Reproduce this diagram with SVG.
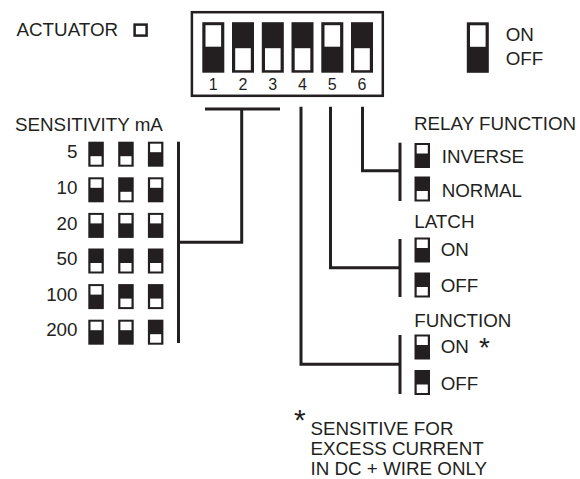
<svg xmlns="http://www.w3.org/2000/svg" width="580" height="479" viewBox="0 0 580 479">
<style>
text{font-family:"Liberation Sans",Arial,sans-serif;fill:#231f20;font-size:18.8px}
.num{font-size:16px;text-anchor:middle}
.r{text-anchor:end}
.ln{fill:none;stroke:#231f20;stroke-width:3}
.blk{fill:#231f20}
.wht{fill:#fff}
.box{fill:none;stroke:#231f20;stroke-width:2.5}
</style>
<defs>
<g id="big-up"><rect class="blk" width="22" height="50.5"/><rect class="wht" x="3.2" y="3" width="15.6" height="21.5"/></g>
<g id="big-down"><rect class="blk" width="22" height="50.5"/><rect class="wht" x="3.2" y="26" width="15.6" height="22"/></g>
<g id="sw-up"><rect class="blk" width="15.5" height="25"/><rect class="wht" x="2.2" y="2" width="11.1" height="8.5"/></g>
<g id="sw-down"><rect class="blk" width="15.5" height="25"/><rect class="wht" x="2.2" y="14.5" width="11.1" height="8.5"/></g>
</defs>
<rect width="580" height="479" fill="#fff"/>

<g id="actuator">
<text x="16.5" y="35.7">ACTUATOR</text>
<rect class="box" x="134.6" y="24.6" width="12" height="11"/>
</g>

<g id="dip-switch">
<rect class="box" x="191.9" y="12.2" width="190.9" height="83.6"/>
<use href="#big-up" x="202.3" y="22.2"/>
<use href="#big-down" x="232" y="22.2"/>
<use href="#big-down" x="261.8" y="22.2"/>
<use href="#big-down" x="291.5" y="22.2"/>
<use href="#big-up" x="321.3" y="22.2"/>
<use href="#big-down" x="351" y="22.2"/>
<text class="num" x="213.3" y="90.3">1</text>
<text class="num" x="243" y="90.3">2</text>
<text class="num" x="272.8" y="90.3">3</text>
<text class="num" x="302.5" y="90.3">4</text>
<text class="num" x="332.3" y="90.3">5</text>
<text class="num" x="362" y="90.3">6</text>
</g>

<g id="legend">
<use href="#big-up" x="466.8" y="22.3"/>
<text x="505.7" y="40.7">ON</text>
<text x="505.7" y="65">OFF</text>
</g>

<g id="sensitivity">
<text x="15" y="130.7">SENSITIVITY mA</text>
<text class="r" x="77.5" y="158.3">5</text>
<text class="r" x="77.5" y="193.9">10</text>
<text class="r" x="77.5" y="229.5">20</text>
<text class="r" x="77.5" y="265.1">50</text>
<text class="r" x="77.5" y="300.7">100</text>
<text class="r" x="77.5" y="336.3">200</text>
<use href="#sw-down" x="88.3" y="141.7"/><use href="#sw-down" x="118.2" y="141.7"/><use href="#sw-up" x="147.9" y="141.7"/>
<use href="#sw-up" x="88.3" y="177.3"/><use href="#sw-down" x="118.2" y="177.3"/><use href="#sw-up" x="147.9" y="177.3"/>
<use href="#sw-up" x="88.3" y="212.9"/><use href="#sw-up" x="118.2" y="212.9"/><use href="#sw-up" x="147.9" y="212.9"/>
<use href="#sw-down" x="88.3" y="248.5"/><use href="#sw-down" x="118.2" y="248.5"/><use href="#sw-down" x="147.9" y="248.5"/>
<use href="#sw-up" x="88.3" y="284.1"/><use href="#sw-down" x="118.2" y="284.1"/><use href="#sw-down" x="147.9" y="284.1"/>
<use href="#sw-up" x="88.3" y="319.7"/><use href="#sw-up" x="118.2" y="319.7"/><use href="#sw-down" x="147.9" y="319.7"/>
</g>

<g id="relay-function">
<text x="414" y="130">RELAY FUNCTION</text>
<use href="#sw-up" x="414.5" y="143"/>
<text x="441.7" y="163">INVERSE</text>
<use href="#sw-down" x="414.5" y="176.5"/>
<text x="441.7" y="196.7">NORMAL</text>
</g>

<g id="latch">
<text x="414.3" y="228.3">LATCH</text>
<use href="#sw-up" x="414.5" y="237.5"/>
<text x="440.7" y="255.7">ON</text>
<use href="#sw-down" x="414.5" y="272.5"/>
<text x="440.7" y="291.7">OFF</text>
</g>

<g id="function">
<text x="414.3" y="326.7">FUNCTION</text>
<use href="#sw-up" x="414.5" y="334.5"/>
<text x="440.7" y="353.3">ON</text>
<text x="479" y="357" style="font-size:28px">*</text>
<use href="#sw-down" x="414.5" y="370"/>
<text x="440.7" y="390">OFF</text>
</g>

<g id="footnote">
<text x="294" y="430" style="font-size:30px">*</text>
<text x="310.5" y="434.5">SENSITIVE FOR</text>
<text x="310.5" y="455">EXCESS CURRENT</text>
<text x="310.5" y="475.3">IN DC + WIRE ONLY</text>
</g>

<g id="connectors">
<line class="ln" x1="205" y1="109" x2="280" y2="109"/>
<path class="ln" d="M241.7 109 V242.3 H178.5"/>
<line class="ln" x1="178.5" y1="141.7" x2="178.5" y2="343"/>
<path class="ln" d="M301 106.7 V364.3 H400"/>
<line class="ln" x1="400" y1="335" x2="400" y2="394"/>
<path class="ln" d="M330.5 106.7 V267.7 H400"/>
<line class="ln" x1="400" y1="239" x2="400" y2="297"/>
<path class="ln" d="M362.5 106.7 V170.7 H400"/>
<line class="ln" x1="400" y1="142.7" x2="400" y2="201"/>
</g>
</svg>
